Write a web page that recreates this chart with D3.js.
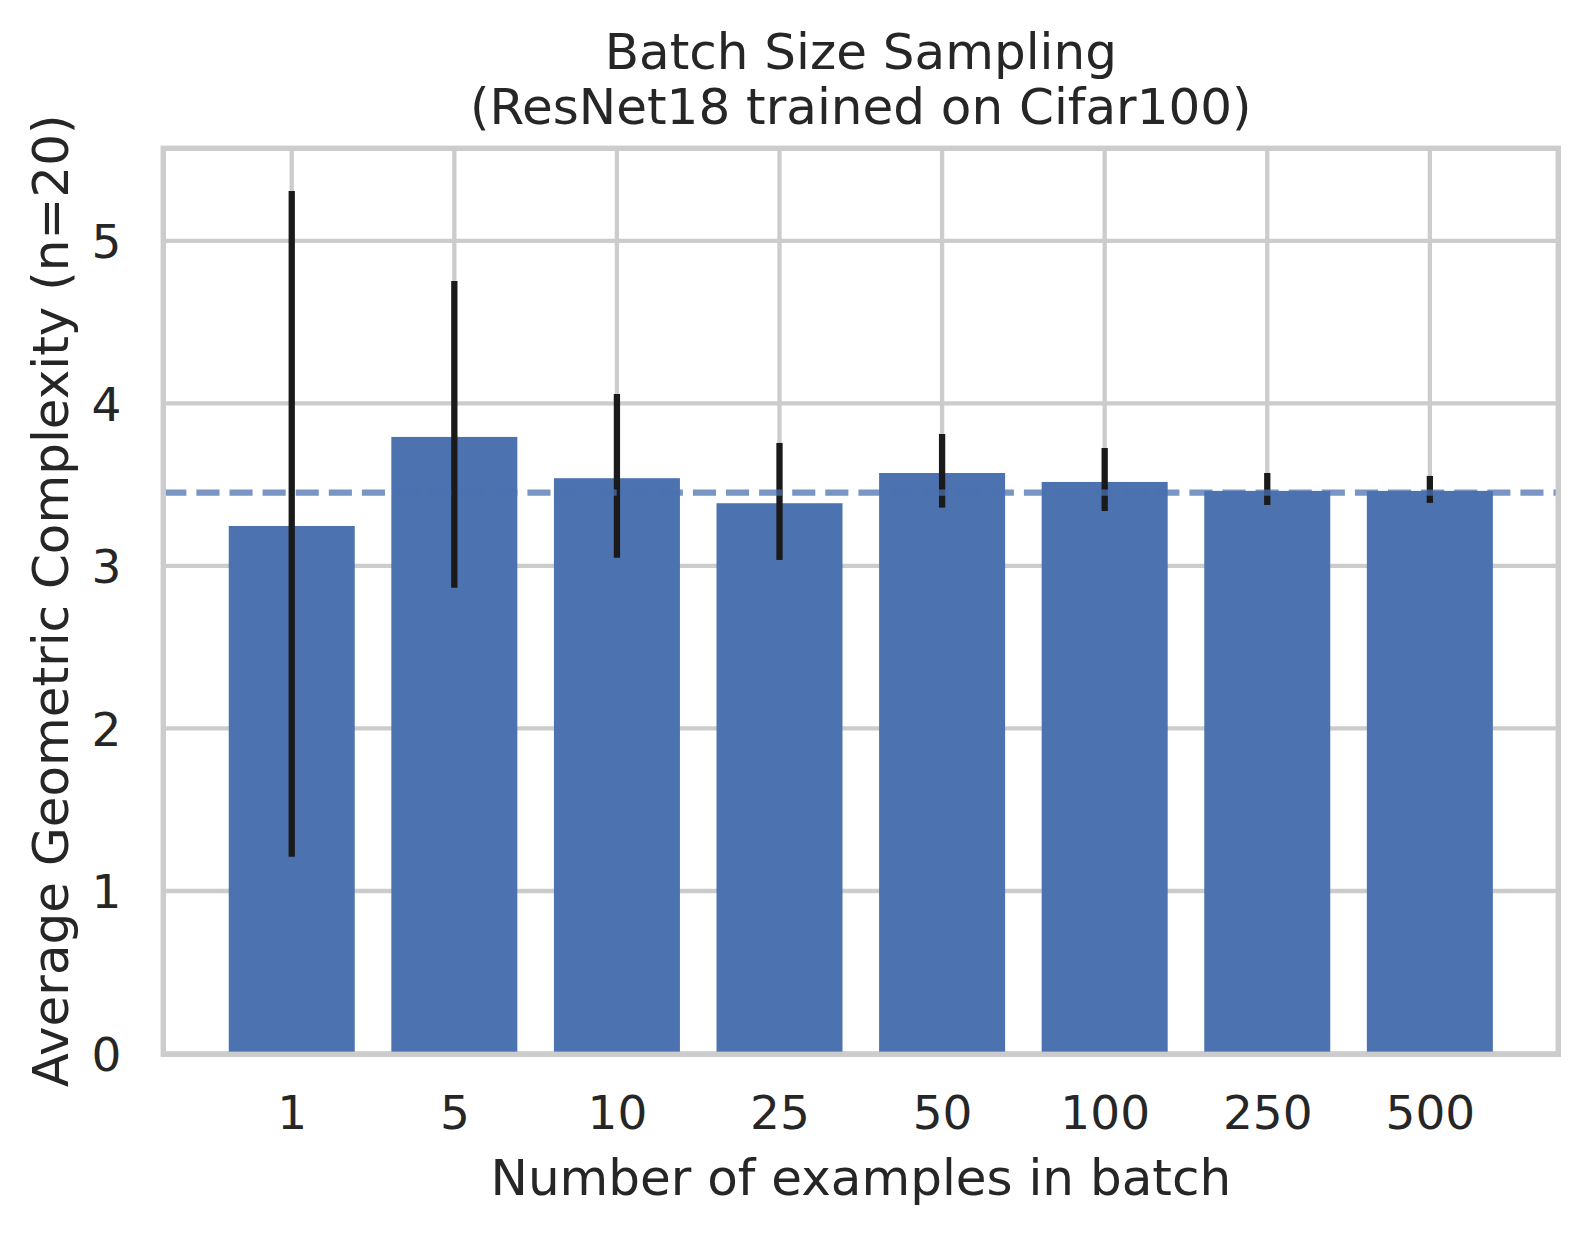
<!DOCTYPE html>
<html>
<head>
<meta charset="utf-8">
<script src="https://cdn.jsdelivr.net/npm/d3@7"></script>
<style>
  body { margin: 0; background: #fff; }
  text { font-family: 'DejaVu Sans', sans-serif; fill: #262626; }
</style>
</head>
<body>
<svg width="1588" height="1233"></svg>
<script>
// data
var batchSizes = ['1', '5', '10', '25', '50', '100', '250', '500'];
var meanComplexity = [3.246, 3.794, 3.540, 3.386, 3.572, 3.517, 3.462, 3.462];
var errLow = [1.211, 2.866, 3.051, 3.037, 3.359, 3.338, 3.375, 3.388];
var errHigh = [5.308, 4.754, 4.058, 3.757, 3.812, 3.726, 3.572, 3.554];
var referenceLine = 3.451;
var yTicks = [0, 1, 2, 3, 4, 5];

var svg = d3.select('svg');

// layout parameters
var plot = {l: 163.3, r: 1558.3, t: 148.3, b: 1053.5};
var barColor = '#4c72b0';
var gridColor = '#cccccc';

var xScale = d3.scaleLinear()
    .domain([-0.79, batchSizes.length - 1 + 0.79])
    .range([plot.l, plot.r]);

var yScale = d3.scaleLinear()
    .domain([0, 5.57])
    .range([plot.b, plot.t]);

var barWidth = 0.775;

// grid behind everything
var grid = svg.append('g').attr('class', 'grid');
grid.selectAll('.hgrid')
    .data(yTicks)
    .enter().append('line')
    .attr('x1', plot.l).attr('x2', plot.r)
    .attr('y1', function(d) { return yScale(d); })
    .attr('y2', function(d) { return yScale(d); })
    .attr('stroke', gridColor)
    .attr('stroke-width', 4.3);
grid.selectAll('.vgrid')
    .data(batchSizes)
    .enter().append('line')
    .attr('x1', function(d, i) { return xScale(i); })
    .attr('x2', function(d, i) { return xScale(i); })
    .attr('y1', plot.t).attr('y2', plot.b)
    .attr('stroke', gridColor)
    .attr('stroke-width', 4.3);

// bars
svg.append('g').selectAll('rect')
    .data(meanComplexity)
    .enter().append('rect')
    .attr('x', function(d, i) { return xScale(i - barWidth / 2); })
    .attr('width', xScale(barWidth) - xScale(0))
    .attr('y', function(d) { return yScale(d); })
    .attr('height', function(d) { return yScale(0) - yScale(d); })
    .attr('fill', barColor);

// error bars
svg.append('g').selectAll('line')
    .data(batchSizes)
    .enter().append('line')
    .attr('x1', function(d, i) { return xScale(i); })
    .attr('x2', function(d, i) { return xScale(i); })
    .attr('y1', function(d, i) { return yScale(errLow[i]); })
    .attr('y2', function(d, i) { return yScale(errHigh[i]); })
    .attr('stroke', '#1a1a1a')
    .attr('stroke-width', 6.3);

// dashed reference line
svg.append('line')
    .attr('x1', plot.l).attr('x2', plot.r)
    .attr('y1', yScale(referenceLine)).attr('y2', yScale(referenceLine))
    .attr('stroke', barColor)
    .attr('stroke-opacity', 0.75)
    .attr('stroke-width', 6.25)
    .attr('stroke-dasharray', '23.1,10');

// spines
svg.append('rect')
    .attr('x', plot.l).attr('y', plot.t)
    .attr('width', plot.r - plot.l)
    .attr('height', plot.b + 0.8 - plot.t)
    .attr('fill', 'none')
    .attr('stroke', gridColor)
    .attr('stroke-width', 5.4);

// axes text
var xAxisG = svg.append('g')
    .attr('transform', 'translate(0,' + plot.b + ')')
    .call(d3.axisBottom(xScale)
        .tickValues(d3.range(batchSizes.length))
        .tickFormat(function(i) { return batchSizes[i]; })
        .tickSize(0));
xAxisG.select('.domain').remove();
xAxisG.selectAll('text')
    .attr('y', 75.5).attr('dy', null)
    .style('font-size', '47px')
    .attr('fill', '#262626');

var yAxisG = svg.append('g')
    .attr('transform', 'translate(' + plot.l + ',0)')
    .call(d3.axisLeft(yScale)
        .tickValues(yTicks)
        .tickFormat(d3.format('d'))
        .tickSize(0)
        .tickPadding(42));
yAxisG.select('.domain').remove();
yAxisG.selectAll('text')
    .attr('dy', '0.36em')
    .style('font-size', '47px')
    .attr('fill', '#262626');

var midX = (plot.l + plot.r) / 2;

svg.append('text')
    .attr('x', midX).attr('y', 1195)
    .attr('text-anchor', 'middle')
    .style('font-size', '50px')
    .text('Number of examples in batch');

svg.append('text')
    .attr('transform', 'translate(68,' + ((plot.t + plot.b) / 2) + ') rotate(-90)')
    .attr('text-anchor', 'middle')
    .style('font-size', '50px')
    .text('Average Geometric Complexity (n=20)');

var title = svg.append('text')
    .attr('text-anchor', 'middle')
    .style('font-size', '50px');
title.append('tspan').attr('x', midX).attr('y', 69).text('Batch Size Sampling');
title.append('tspan').attr('x', midX).attr('y', 123.5).text('(ResNet18 trained on Cifar100)');
</script>
</body>
</html>
